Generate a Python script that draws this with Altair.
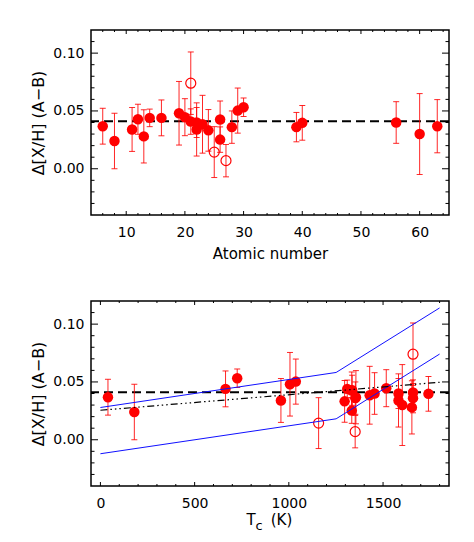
import altair as alt
import pandas as pd

# ---------------- data ----------------
elements = ["C", "O", "Na", "Mg", "Al", "Si", "S", "K", "Ca", "Sc", "Sc", "Ti", "Ti", "V", "Cr",
            "Mn", "Fe", "Fe", "Co", "Ni", "Cu", "Zn", "Y", "Zr", "Ba", "Nd", "Eu"]
atomic_number = [6, 8, 11, 12, 13, 14, 16, 19, 20, 21, 21, 22, 22, 23, 24,
                 25, 26, 26, 27, 28, 29, 30, 39, 40, 56, 60, 63]
cond_temp = [40, 180, 958, 1336, 1653, 1310, 664, 1006, 1517, 1659, 1659, 1582, 1582, 1429, 1296,
             1158, 1334, 1334, 1352, 1353, 1037, 726, 1659, 1741, 1455, 1602, 1356]
delta = [0.0368, 0.0240, 0.0340, 0.0428, 0.0280, 0.0440, 0.0440, 0.0480, 0.0446, 0.0740, 0.0408,
         0.0340, 0.0400, 0.0385, 0.0332, 0.0144, 0.0426, 0.0252, 0.0070, 0.0360, 0.0503, 0.0532,
         0.0360, 0.0397, 0.0400, 0.0300, 0.0368]
err = [0.0155, 0.0240, 0.0190, 0.0130, 0.0230, 0.0076, 0.0155, 0.0275, 0.0160, 0.0270, 0.0110,
       0.0230, 0.0130, 0.0250, 0.0180, 0.0220, 0.0160, 0.0110, 0.0140, 0.0140, 0.0195, 0.0080,
       0.0127, 0.0150, 0.0180, 0.0350, 0.0230]
hollow = [0, 0, 0, 0, 0, 0, 0, 0, 0, 1, 0, 0, 0, 0, 0, 1, 0, 0, 1, 0, 0, 0, 0, 0, 0, 0, 0]

mean_offset = [0.0411]

fit_tc = [0, 1800]
fit_val = [0.0255, 0.0497]

band_tc = [0, 1251, 1800]
band_upper = [0.0279, 0.0582, 0.1140]
band_lower = [-0.0121, 0.0181, 0.0741]

y_major = [0.00, 0.05, 0.10]
y_minor = [-0.03, -0.02, -0.01, 0.01, 0.02, 0.03, 0.04, 0.06, 0.07, 0.08, 0.09, 0.11]
z_major = [10, 20, 30, 40, 50, 60]
z_minor = [6, 8, 12, 14, 16, 18, 22, 24, 26, 28, 32, 34, 36, 38, 42, 44, 46, 48,
           52, 54, 56, 58, 62, 64]
t_major = [0, 500, 1000, 1500]
t_minor = [100, 200, 300, 400, 600, 700, 800, 900, 1100, 1200, 1300, 1400, 1600, 1700, 1800]

# ---------------- tables ----------------
df = pd.DataFrame({"el": elements, "z": atomic_number, "tc": cond_temp,
                   "d": delta, "e": err, "hollow": hollow})
df["lo"] = df["d"] - df["e"]
df["hi"] = df["d"] + df["e"]

band_df = pd.DataFrame({"tc": band_tc * 2, "v": band_upper + band_lower,
                        "g": ["upper"] * 3 + ["lower"] * 3})
fit_df = pd.DataFrame({"tc": fit_tc, "v": fit_val})
mean_df = pd.DataFrame({"m": mean_offset})
one = pd.DataFrame({"a": [0]})

W, H = 358, 185
FONT = "DejaVu Sans"
RED = "#ff0000"

yscale = alt.Scale(domain=[-0.04, 0.12], nice=False, zero=False)
yaxis = alt.Axis(values=y_major, format=".2f", ticks=False, domain=False, grid=False,
                 labelFont=FONT, labelFontSize=14, labelPadding=7, labelColor="black",
                 minExtent=38, maxExtent=38,
                 title="Δ[X/H] (A−B)", titleFont=FONT, titleFontSize=16,
                 titleFontWeight="normal", titleColor="black", titlePadding=6.6)


def panel(xcol, xdomain, xmajor, xminor, xtitle, extra_top=None):
    xscale = alt.Scale(domain=xdomain, nice=False, zero=False)
    if xtitle:
        xaxis = alt.Axis(values=xmajor, format="d", ticks=False, domain=False, grid=False,
                         labelFont=FONT, labelFontSize=14, labelPadding=10, labelColor="black",
                         title=xtitle, titleFont=FONT, titleFontSize=15,
                         titleFontWeight="normal", titleColor="black", titlePadding=7)
    else:
        xaxis = alt.Axis(values=xmajor, format="d", ticks=False, domain=False, grid=False,
                         labelFont=FONT, labelFontSize=14, labelPadding=10, labelColor="black",
                         title=None)

    def X(f):
        return alt.X(f"{f}:Q", scale=xscale, axis=xaxis)

    def Y(f):
        return alt.Y(f"{f}:Q", scale=yscale, axis=yaxis)

    layers = []
    # inward ticks on all four sides
    for vals, ln in ((xmajor, 4), (xminor, 2)):
        d = pd.DataFrame({"t": vals})
        layers.append(alt.Chart(d).mark_rule(color="black", strokeWidth=1).encode(
            x=X("t"), y=alt.value(H), y2=alt.value(H - ln)))
        layers.append(alt.Chart(d).mark_rule(color="black", strokeWidth=1).encode(
            x=X("t"), y=alt.value(0), y2=alt.value(ln)))
    for vals, ln in ((y_major, 7), (y_minor, 3.5)):
        d = pd.DataFrame({"t": vals})
        layers.append(alt.Chart(d).mark_rule(color="black", strokeWidth=1).encode(
            y=Y("t"), x=alt.value(0), x2=alt.value(ln)))
        layers.append(alt.Chart(d).mark_rule(color="black", strokeWidth=1).encode(
            y=Y("t"), x=alt.value(W - ln), x2=alt.value(W)))

    # mean offset
    layers.append(alt.Chart(mean_df).mark_rule(color="black", strokeWidth=2.2,
                                               strokeDash=[9, 5]).encode(y=Y("m")))
    # error bars
    layers.append(alt.Chart(df).mark_rule(color=RED, strokeWidth=1, opacity=0.85).encode(
        x=X(xcol), y=Y("lo"), y2=alt.Y2("hi:Q")))
    for f in ("lo", "hi"):
        layers.append(alt.Chart(df).mark_tick(color=RED, orient="horizontal", size=6,
                                              thickness=1, opacity=0.85).encode(
            x=X(xcol), y=Y(f)))
    # points
    layers.append(alt.Chart(df).transform_filter(alt.datum.hollow == 0).mark_circle(
        color=RED, size=110, opacity=1).encode(x=X(xcol), y=Y("d")))
    layers.append(alt.Chart(df).transform_filter(alt.datum.hollow == 1).mark_point(
        shape="circle", filled=False, color=RED, size=100, strokeWidth=1.2, opacity=1).encode(
        x=X(xcol), y=Y("d")))

    if extra_top is not None:
        layers.extend(extra_top(X, Y))
    return alt.layer(*layers).properties(width=W, height=H)


def bottom_extras(X, Y):
    out = []
    out.append(alt.Chart(band_df).mark_line(color="#1010ff", strokeWidth=1).encode(
        x=X("tc"), y=Y("v"), detail="g:N"))
    out.append(alt.Chart(fit_df).mark_line(color="black", strokeWidth=1.2,
                                           strokeDash=[7, 3, 1.5, 3, 1.5, 3, 1.5, 3]).encode(
        x=X("tc"), y=Y("v")))
    for s, dx, dy, size in (("T", -19.0, 38.5, 15), ("c", -11.0, 44.0, 13), ("(K)", 11.5, 38.5, 15)):
        out.append(alt.Chart(one).mark_text(text=s, font=FONT, fontSize=size, align="center",
                                            baseline="alphabetic", color="black").encode(
            x=alt.value(W / 2 + dx), y=alt.value(H + dy)))
    return out


top = panel("z", [4, 65], z_major, z_minor, "Atomic number")
bottom = panel("tc", [-50, 1850], t_major, t_minor, None, extra_top=bottom_extras)

chart = alt.vconcat(top, bottom, spacing=37).properties(
    padding={"left": 21, "top": 20, "right": 5, "bottom": 5}
).configure_view(stroke="black", strokeWidth=1.5)

chart.save("out.html", embed_options={"renderer": "svg", "actions": False})
